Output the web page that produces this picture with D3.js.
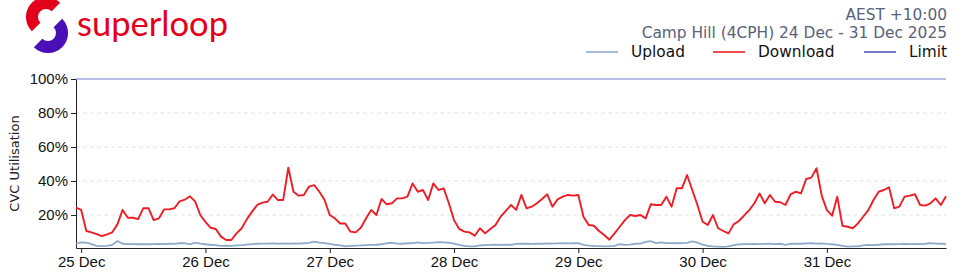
<!DOCTYPE html>
<html>
<head>
<meta charset="utf-8">
<script src="https://cdn.jsdelivr.net/npm/d3@7"></script>
<style>
  body { margin: 0; background: #fff; }
  svg { display: block; font-family: "DejaVu Sans", sans-serif; }
</style>
</head>
<body>
<svg></svg>
<script>

// hourly samples, first one at 24 Dec 23:00 AEST
const firstSample = new Date(2025, 11, 24, 23)

const download = [
    24.3, 23, 10.6, 9.8, 8.8, 7.6, 8.6, 9.8, 14.5, 23, 18.4, 18.4, 17.6, 24, 24, 17, 18, 23.3, 23.3, 24, 28, 29, 31, 28, 20,
    16, 12.5, 11.8, 7.3, 5.3, 5.3, 9.2, 12.2, 17.6, 22, 25.9, 27.3, 27.8, 32, 28.8, 28.8, 47.8, 33.7, 31.4, 31.8, 36.7, 37.6, 33.7, 28.8,
    20, 18, 15, 15, 10.2, 9.8, 12.5, 18, 23, 20, 29.4, 26.3, 26.9, 29.8, 29.8, 30.8, 38.6, 33.7, 34.7, 28.8, 38.6, 34.7, 35.7, 26.9,
    17, 11.8, 10.2, 9.8, 7.8, 12.2, 9.2, 11.8, 14.1, 19, 22.4, 25.9, 23, 31.8, 23.9, 24.9, 26.9, 29.4, 32.2, 24.9, 29.2, 30.8, 31.8, 31.4,
    31.8, 19, 14.1, 13.7, 10.6, 8.2, 5.5, 9.2, 13.1, 17, 20, 19.4, 20, 18, 26.3, 25.9, 25.9, 30.8, 24.9, 35.7, 35.7, 43.5, 34.7, 25.9,
    16, 14.1, 20, 12.2, 10.6, 9.2, 14.5, 16.5, 19.6, 22.9, 26.9, 32.7, 26.9, 31.8, 27.8, 27.5, 25.9, 32.2, 33.7, 32.7, 41.2, 42, 47.5, 31.4,
    22.9, 19.6, 30.8, 13.7, 13.1, 12.2, 15.1, 19, 22.9, 28.8, 33.7, 34.7, 36.3, 23.9, 24.9, 30.8, 31.4, 32.2, 25.9, 25.5, 26.9, 29.8, 25.9, 31
]

const upload = [
    3.1, 3.9, 3.8, 2.9, 1.8, 1.7, 1.9, 2.4, 4.7, 3.1, 2.9, 2.9, 2.8, 2.9, 2.8, 2.9, 3.0, 2.9, 3.1, 3.0, 3.4, 3.5, 2.8, 3.7, 3.2,
    2.8, 2.5, 2.3, 1.9, 2.0, 1.9, 2.1, 2.3, 2.6, 2.9, 3.1, 3.2, 3.2, 3.3, 3.1, 3.3, 3.2, 3.3, 3.2, 3.4, 3.6, 4.3, 3.8, 3.5,
    3.0, 2.5, 2.2, 1.6, 1.8, 2.0, 2.1, 2.3, 2.4, 2.5, 2.8, 3.4, 3.6, 3.2, 3.1, 3.4, 3.5, 3.9, 3.5, 3.6, 3.8, 4.1, 3.9, 3.7,
    3.2, 2.4, 1.8, 1.5, 1.6, 2.1, 2.3, 2.4, 2.5, 2.4, 2.6, 2.5, 3.0, 3.1, 3.2, 3.0, 3.2, 3.1, 3.3, 3.2, 3.3, 3.4, 3.3, 3.5,
    3.4, 2.4, 2.0, 1.8, 1.7, 1.6, 1.7, 1.9, 2.8, 2.4, 2.6, 3.1, 3.2, 4.2, 4.6, 3.5, 3.9, 3.5, 3.5, 3.4, 3.5, 3.6, 4.5, 3.7,
    2.6, 1.8, 1.5, 1.4, 1.3, 1.6, 2.3, 2.7, 2.9, 2.9, 3.0, 2.9, 3.0, 3.1, 2.9, 3.1, 2.4, 3.1, 3.2, 3.1, 3.3, 3.4, 3.2, 3.3,
    3.0, 2.8, 2.4, 1.8, 1.4, 1.5, 1.6, 2.1, 2.4, 2.3, 2.5, 2.8, 2.9, 2.8, 2.9, 3.0, 2.9, 3.0, 2.9, 3.1, 3.5, 3.2, 3.1, 3.0
]

const limit = 100

const dayTicks = ["25 Dec", "26 Dec", "27 Dec", "28 Dec", "29 Dec", "30 Dec", "31 Dec"]
const yTicks = [20, 40, 60, 80, 100]

const legendItems = ["Upload", "Download", "Limit"]
const colors = {
    Upload: "#8eaacb",
    Download: "#ee1c25",
    Limit: "#5555c4"
}


const width = 960
const height = 280
const margin = {left: 76, right: 14, top: 79, bottom: 32}

const svg = d3.select("svg")
    .attr("width", width)
    .attr("height", height)

const parseDay = d3.timeParse("%d %b %Y")
const lastSample = d3.timeHour.offset(firstSample, download.length - 1)

const x = d3.scaleTime()
    .domain([firstSample, lastSample])
    .range([margin.left, width - margin.right])

const y = d3.scaleLinear()
    .domain([0.6, 100])
    .range([height - margin.bottom, margin.top])


// grid
svg.append("g")
    .selectAll("line")
    .data(yTicks.filter(d => d < limit))
    .enter()
    .append("line")
    .attr("x1", x.range()[0])
    .attr("x2", x.range()[1])
    .attr("y1", d => y(d))
    .attr("y2", d => y(d))
    .style("stroke", "#e4e4e4")
    .style("stroke-dasharray", "4,3")


// axes
svg.append("g")
    .attr("transform", `translate(${margin.left}, 0)`)
    .call(d3.axisLeft(y)
        .tickValues(yTicks)
        .tickFormat(d => d + "%")
        .tickSize(5)
        .tickSizeOuter(0)
        .tickPadding(3))

svg.append("g")
    .attr("transform", `translate(0, ${height - margin.bottom})`)
    .call(d3.axisBottom(x)
        .tickValues(dayTicks.map(d => parseDay(d + " 2025")))
        .tickFormat((d, i) => dayTicks[i])
        .tickSize(5)
        .tickSizeOuter(0)
        .tickPadding(3))

svg.selectAll(".tick text")
    .style("font-size", "15px")
    .style("fill", "#111")
svg.selectAll(".domain, .tick line")
    .style("stroke", "#222")

svg.append("text")
    .attr("transform", `translate(14, ${(y.range()[0] + y.range()[1]) / 2}) rotate(-90)`)
    .attr("text-anchor", "middle")
    .attr("dy", "0.35em")
    .style("font-size", "13px")
    .style("fill", "#222")
    .text("CVC Utilisation")


// series
const lineGenerator = d3.line()
    .x((d, i) => x(d3.timeHour.offset(firstSample, i)))
    .y(d => y(d))

svg.append("line")
    .attr("x1", x.range()[0])
    .attr("x2", x.range()[1])
    .attr("y1", y(limit))
    .attr("y2", y(limit))
    .style("stroke", colors.Limit)
    .style("stroke-opacity", 0.8)
    .style("stroke-width", 1.2)

svg.append("path")
    .datum(upload)
    .attr("d", lineGenerator)
    .style("fill", "none")
    .style("stroke", colors.Upload)
    .style("stroke-width", 1.8)

svg.append("path")
    .datum(download)
    .attr("d", lineGenerator)
    .style("fill", "none")
    .style("stroke", colors.Download)
    .style("stroke-width", 1.9)
    .style("stroke-linejoin", "round")


// header text
const header = svg.append("g")
    .style("fill", "#58627a")
    .style("font-size", "15.4px")
    .attr("text-anchor", "end")

header.append("text")
    .attr("x", 947)
    .attr("y", 20)
    .text("AEST +10:00")

header.append("text")
    .attr("x", 947)
    .attr("y", 38)
    .text("Camp Hill (4CPH) 24 Dec - 31 Dec 2025")


// legend
const legendX = [586, 713, 864]

const legend = svg.append("g")
    .selectAll("g")
    .data(legendItems)
    .enter()
    .append("g")
    .attr("transform", (d, i) => `translate(${legendX[i]}, 52)`)

legend.append("line")
    .attr("x1", 0)
    .attr("x2", 32)
    .style("stroke", d => colors[d])
    .style("stroke-width", 1.6)

legend.append("text")
    .attr("x", 45)
    .attr("dy", "0.35em")
    .style("font-size", "15.4px")
    .style("fill", "#111")
    .text(d => d)


// logo
const logo = svg.append("g")

const arcGenerator = d3.arc()
    .innerRadius(8)
    .outerRadius(20)

logo.append("path")
    .attr("transform", "translate(46, 17)")
    .attr("d", arcGenerator({startAngle: -0.75 * Math.PI, endAngle: 0.25 * Math.PI}))
    .style("fill", "#e3001b")

logo.append("path")
    .attr("transform", "translate(48, 33)")
    .attr("d", arcGenerator({startAngle: 0.25 * Math.PI, endAngle: 1.25 * Math.PI}))
    .style("fill", "#4b0fb7")

logo.append("text")
    .attr("x", 77)
    .attr("y", 36)
    .attr("textLength", 151)
    .attr("lengthAdjust", "spacingAndGlyphs")
    .style("font-family", "Lato, sans-serif")
    .style("font-size", "35px")
    .style("fill", "#e3001b")
    .text("superloop")

</script>
</body>
</html>
